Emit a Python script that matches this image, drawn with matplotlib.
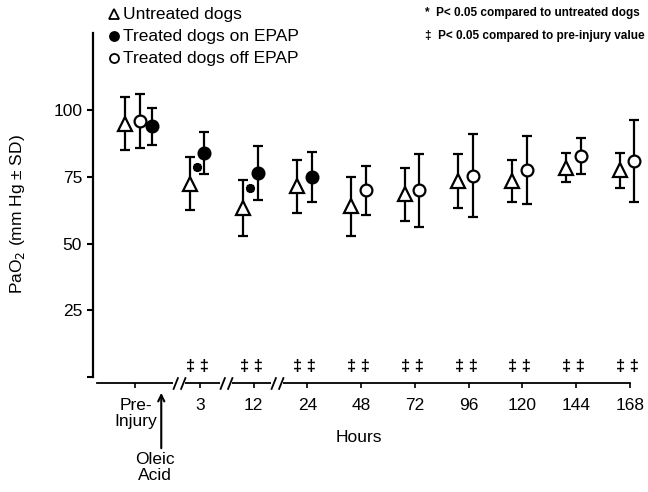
import matplotlib
matplotlib.use('Agg')
import matplotlib.pyplot as plt
from matplotlib.lines import Line2D
from matplotlib.path import Path
from matplotlib import transforms

plt.rcParams['font.family'] = ['Liberation Sans', 'DejaVu Sans']

# ── data ───────────────────────────────────────────────────────────────
time_labels = ['Pre-\nInjury', '3', '12', '24', '48', '72', '96', '120', '144', '168']

untreated_mean = [95, 72.5, 63.5, 71.5, 64, 68.5, 73.5, 73.5, 78.5, 77.5]
untreated_sd   = [10, 10, 10.5, 10, 11, 10, 10, 8, 5.5, 6.5]

on_times = ['Pre-\nInjury', '3', '12', '24']
on_mean  = [94, 84, 76.5, 75]
on_sd    = [7, 7.7, 10.2, 9.2]

off_times = ['Pre-\nInjury', '48', '72', '96', '120', '144', '168']
off_mean  = [96, 70, 70, 75.5, 77.5, 83, 81]
off_sd    = [10, 9.3, 13.7, 15.5, 12.8, 6.7, 15.5]

star_times = ['3', '12']          # P<0.05 vs untreated
star_level = [78.7, 71]
dagger_times = time_labels[1:]    # P<0.05 vs pre-injury

# ── layout ────────────────────────────────────────────────────────────
W, H = 648, 492
tick_x = [-1.2, 0, 1, 2, 3, 4, 5, 6, 7, 8]
pos = dict(zip(time_labels, tick_x))
TRI_OFF, CIR_OFF = -0.19, 0.08
PRE = time_labels[0]

def xs(times, off, pre_off):
    return [pos[t] + (pre_off if t == PRE else off) for t in times]

fig = plt.figure(figsize=(W / 100, H / 100), dpi=100)
ax = fig.add_axes([93 / W, 1 - 377 / H, (645 - 93) / W, (377 - 33) / H])
ax.set_xlim(-1.99, 8.28)
ax.set_ylim(0, 129)

eb = dict(color='black', ecolor='black', elinewidth=1.6, capsize=3.6,
          capthick=1.6, mew=1.6, linestyle='none')
ax.errorbar(xs(time_labels, TRI_OFF, -0.2), untreated_mean, yerr=untreated_sd,
            fmt='^', ms=9.5, mfc='white', zorder=3, **eb)
ax.errorbar(xs(on_times, CIR_OFF, 0.31), on_mean, yerr=on_sd,
            fmt='o', ms=8.5, mfc='black', zorder=3, **eb)
ax.errorbar(xs(off_times, CIR_OFF, 0.09), off_mean, yerr=off_sd,
            fmt='o', ms=8.5, mfc='white', zorder=3, **eb)

ax.plot([pos[t] - 0.06 for t in star_times], star_level, linestyle='none',
        marker=(8, 2, 0), ms=6.5, mew=1.8, color='black', zorder=4)

for t in dagger_times:
    ax.text(pos[t] - 0.05, 4.1, '‡ ‡', ha='center', va='center',
            fontsize=12, fontweight='bold')

# axes styling
for s in ('top', 'right'):
    ax.spines[s].set_visible(False)
ax.spines['left'].set_linewidth(1.6)
ax.spines['left'].set_bounds(0, 129)
ax.spines['bottom'].set_position(('outward', 4.3))
ax.spines['bottom'].set_linewidth(1.3)
ax.spines['bottom'].set_bounds(-1.92, 8)

ax.set_yticks([0, 25, 50, 75, 100])
ax.set_yticklabels(['', '25', '50', '75', '100'], fontsize=12.5)
ax.tick_params(axis='y', length=4.3, width=1.5, pad=3.5)
ax.set_xticks(tick_x)
ax.set_xticklabels(time_labels, fontsize=12.5, linespacing=1.1)
ax.tick_params(axis='x', length=3.6, width=1.2, pad=7)

ax.set_ylabel('PaO$_2$ (mm Hg ± SD)', fontsize=12.5, labelpad=14)
ax.yaxis.set_label_coords(-0.12, (377 - 214) / (377 - 33))

# axis breaks (//) on the bottom spine
spine_tr = transforms.blended_transform_factory(ax.transData, ax.transAxes) + \
    transforms.ScaledTranslation(0, -6 / 100, fig.dpi_scale_trans)
slashes = Path([(-1.0, -1), (-0.2, 1), (0.2, -1), (1.0, 1)],
               [Path.MOVETO, Path.LINETO, Path.MOVETO, Path.LINETO])
gap = Path([(-0.7, -0.3), (0.7, -0.3), (0.7, 0.3), (-0.7, 0.3), (-0.7, -0.3)],
           [Path.MOVETO, Path.LINETO, Path.LINETO, Path.LINETO, Path.CLOSEPOLY])
breaks_x = [-0.39, 0.48, 1.43]
ax.plot(breaks_x, [0] * 3, transform=spine_tr, linestyle='none', marker=gap,
        ms=8, mfc='white', mec='white', mew=0, clip_on=False, zorder=5)
ax.plot(breaks_x, [0] * 3, transform=spine_tr, linestyle='none', marker=slashes,
        ms=9, mec='black', mew=1.3, clip_on=False, zorder=6)

figx = transforms.blended_transform_factory(ax.transData, fig.transFigure)
ax.annotate('', xy=(-0.72, 1 - 390 / H), xycoords=figx,
            xytext=(-0.72, 1 - 451 / H), textcoords=figx,
            arrowprops=dict(arrowstyle='->,head_length=0.45,head_width=0.22',
                            lw=1.5, color='black'))
ax.text(-0.83, 1 - 452 / H, 'Oleic\nAcid', transform=figx, ha='center',
        va='top', fontsize=12.5, linespacing=1.1)
ax.text(2.95, 1 - 438 / H, 'Hours', transform=figx, ha='center',
        va='center', fontsize=12.5)

# legend block in the top-left
leg = [('^', 'white', 'Untreated dogs'),
       ('o', 'black', 'Treated dogs on EPAP'),
       ('o', 'white', 'Treated dogs off EPAP')]
for i, (m, fc, lab) in enumerate(leg):
    yy = 1 - (14 + 22 * i) / H
    fig.add_artist(Line2D([114 / W], [yy], marker=m, ms=7 if m == '^' else 6.5,
                          mfc=fc, mec='black', mew=1.3, linestyle='none',
                          transform=fig.transFigure))
    fig.text(123 / W, yy, lab, ha='left', va='center', fontsize=12.5)

fig.text(425 / W, 1 - 13 / H, '*  P< 0.05 compared to untreated dogs',
         ha='left', va='center', fontsize=8.5, fontweight='bold')
fig.text(425 / W, 1 - 36 / H, '‡  P< 0.05 compared to pre-injury value',
         ha='left', va='center', fontsize=8.5, fontweight='bold')

fig.savefig('out.png', dpi=100)
